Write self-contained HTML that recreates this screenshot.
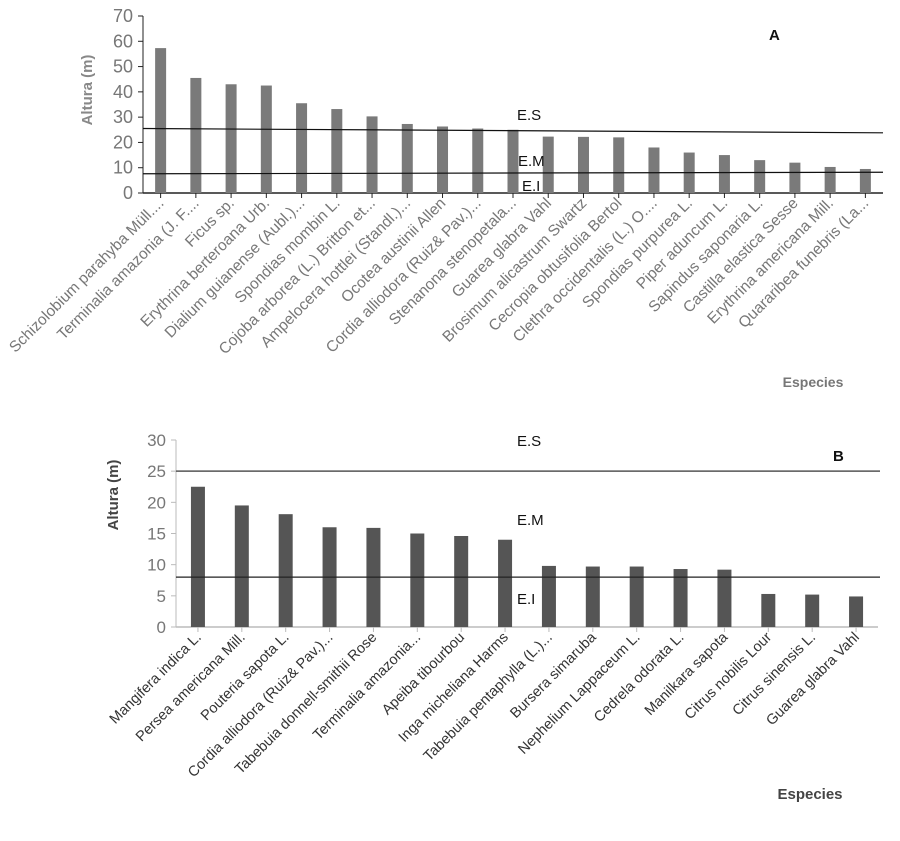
<!DOCTYPE html>
<html><head><meta charset="utf-8"><style>
html,body{margin:0;padding:0;background:#fff;}
svg{display:block;font-family:"Liberation Sans",Arial,sans-serif;}
</style></head><body>
<svg id="s" width="900" height="841" viewBox="0 0 900 841" xmlns="http://www.w3.org/2000/svg"></svg>
<script>
const catsA=["Schizolobium parahyba Müll....","Terminalia amazonia (J. F....","Ficus sp.","Erythrina berteroana Urb.","Dialium guianense (Aubl.)...","Spondias mombin L.","Cojoba arborea (L.) Britton et...","Ampelocera hottlei (Standl.)...","Ocotea austinii Allen","Cordia alliodora (Ruiz& Pav.)...","Stenanona stenopetala...","Guarea glabra Vahl","Brosimum alicastrum Swartz","Cecropia obtusifolia Bertol","Clethra occidentalis (L.) O....","Spondias purpurea L.","Piper aduncum L.","Sapindus saponaria L.","Castilla elastica Sesse","Erythrina americana Mill.","Quararibea funebris (La..."];
const valsA=[57.3,45.5,43,42.5,35.5,33.2,30.3,27.3,26.3,25.5,25,22.3,22.2,22,18,16,15,13,12,10.3,9.5];
const ticksA=[0,10,20,30,40,50,60,70];
const catsB=["Mangifera indica L.","Persea americana Mill.","Pouteria sapota L.","Cordia alliodora (Ruiz& Pav.)...","Tabebuia donnell-smithii Rose","Terminalia amazonia...","Apeiba tibourbou","Inga micheliana Harms","Tabebuia pentaphylla (L.)...","Bursera simaruba","Nephelium Lappaceum L.","Cedrela odorata L.","Manilkara sapota","Citrus nobilis Lour","Citrus sinensis L.","Guarea glabra Vahl"];
const valsB=[22.5,19.5,18.1,16,15.9,15,14.6,14,9.8,9.7,9.7,9.3,9.2,5.3,5.2,4.9];
const ticksB=[0,5,10,15,20,25,30];

const S=document.getElementById('s');
const NS="http://www.w3.org/2000/svg";
function mk(tag,attrs,txt){const e=document.createElementNS(NS,tag);for(const k in attrs)e.setAttribute(k,attrs[k]);if(txt!==undefined)e.textContent=txt;S.appendChild(e);return e;}

function chart(o){
  const y=v=>o.y0-(v-o.min)/(o.max-o.min)*(o.y0-o.y1);
  const bw=(o.x1-o.x0)/o.cats.length;
  const x=i=>o.x0+bw*(i+0.5);
  let e=mk('line',{x1:o.x0,y1:o.y1,x2:o.x0,y2:o.y0,stroke:o.axc,'stroke-width':1});
  
  
  e=mk('line',{x1:o.x0,y1:o.y0,x2:o.x1,y2:o.y0,stroke:o.axc,'stroke-width':1.5});
  
  
  o.ticks.forEach(t=>{
    e=mk('line',{x1:o.x0-5,y1:y(t),x2:o.x0,y2:y(t),stroke:o.axc});
    
    
    e=mk('text',{x:o.x0-10,y:y(t)+6,'text-anchor':'end','font-size':o.tfs,fill:'#777'},t);
    
    
  });
  o.vals.forEach((v,i)=>{
    e=mk('rect',{x:x(i)-o.barw/2,y:y(v),width:o.barw,height:o.y0-y(v),fill:o.bar});
    
    
    e=mk('line',{x1:x(i),y1:o.y0,x2:x(i),y2:o.y0+5,stroke:o.axc});
    
    
    const lx=x(i)+4,ly=o.y0+11;
    e=mk('text',{x:lx,y:ly,'text-anchor':'end','font-size':o.lfs,fill:o.lc,transform:`rotate(-45 ${lx} ${ly})`},o.cats[i]);
    
    
  });
  return y;
}
const yA=chart({p:'a',x0:143,x1:883,y0:193,y1:16,min:0,max:70,cats:catsA,vals:valsA,ticks:ticksA,barw:11,bar:'#7a7a7a',axc:'#222',tfs:18,lfs:15.5,lc:'#777'});
let e;
e=mk('line',{x1:143,y1:yA(25.5),x2:883,y2:yA(23.8),stroke:'#111','stroke-width':1.2});


e=mk('line',{x1:143,y1:yA(7.6),x2:883,y2:yA(8.2),stroke:'#111','stroke-width':1.2});


[['E.S',517,120],['E.M',518,166],['E.I',522,191]].forEach(a=>{
  e=mk('text',{x:a[1],y:a[2],'font-size':15,fill:'#111'},a[0]);
  
  
});
e=mk('text',{x:769,y:40,'font-size':15,'font-weight':'bold',fill:'#111'},'A');


e=mk('text',{x:0,y:0,'font-size':15,'font-weight':'bold',fill:'#888','text-anchor':'middle',transform:'translate(92,90) rotate(-90)'},'Altura (m)');


e=mk('text',{x:813,y:387,'font-size':14,'font-weight':'bold',fill:'#777','text-anchor':'middle'},'Especies');



const yB=chart({p:'b',x0:176,x1:878,y0:627,y1:440,min:0,max:30,cats:catsB,vals:valsB,ticks:ticksB,barw:14,bar:'#555',axc:'#bbb',tfs:17,lfs:14.5,lc:'#333'});
e=mk('line',{x1:176,y1:yB(25),x2:880,y2:yB(25),stroke:'#555','stroke-width':1.5});


e=mk('line',{x1:176,y1:yB(8),x2:880,y2:yB(8),stroke:'#222','stroke-width':1.2});


[['E.S',517,446],['E.M',517,525],['E.I',517,604]].forEach(a=>{
  e=mk('text',{x:a[1],y:a[2],'font-size':15,fill:'#111'},a[0]);
  
  
});
e=mk('text',{x:833,y:461,'font-size':15,'font-weight':'bold',fill:'#111'},'B');


e=mk('text',{x:0,y:0,'font-size':15,'font-weight':'bold',fill:'#444','text-anchor':'middle',transform:'translate(118,495) rotate(-90)'},'Altura (m)');


e=mk('text',{x:810,y:799,'font-size':15,'font-weight':'bold',fill:'#444','text-anchor':'middle'},'Especies');


</script>
</body></html>
